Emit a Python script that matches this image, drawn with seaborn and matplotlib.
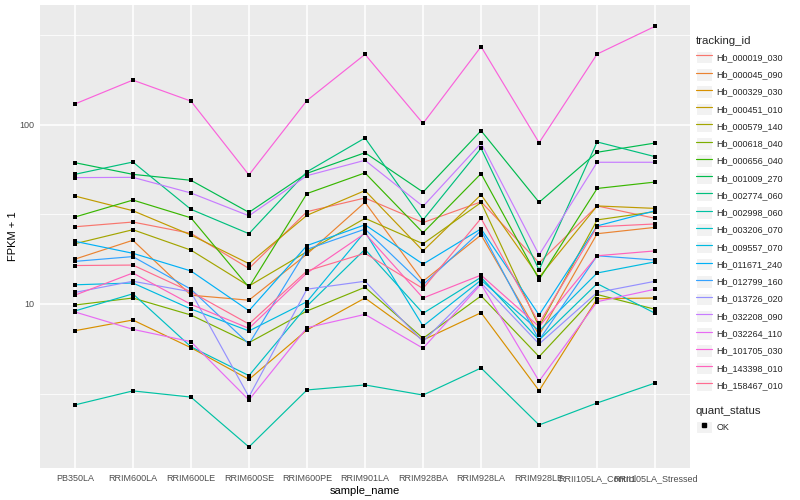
import matplotlib
matplotlib.use("Agg")
import matplotlib.pyplot as plt
import seaborn as sns
import pandas as pd
from matplotlib.lines import Line2D
from matplotlib.patches import Rectangle
from matplotlib.ticker import FixedLocator, NullLocator

samples = ["PB350LA", "RRIM600LA", "RRIM600LE", "RRIM600SE", "RRIM600PE",
           "RRIM901LA", "RRIM928BA", "RRIM928LA", "RRIM928LE",
           "RRII105LA_Control", "RRII105LA_Stressed"]

tracking_ids = ["Hb_000019_030", "Hb_000045_090", "Hb_000329_030", "Hb_000451_010",
                "Hb_000579_140", "Hb_000618_040", "Hb_000656_040", "Hb_001009_270",
                "Hb_002774_060", "Hb_002998_060", "Hb_003206_070", "Hb_009557_070",
                "Hb_011671_240", "Hb_012799_160", "Hb_013726_020", "Hb_032208_090",
                "Hb_032264_110", "Hb_101705_030", "Hb_143398_010", "Hb_158467_010"]

palette = ["#F8766D", "#EA8331", "#D89000", "#C09B00", "#A3A500", "#7CAE00",
           "#39B600", "#00BB4E", "#00BF7D", "#00C1A3", "#00BFC4", "#00BAE0",
           "#00B0F6", "#35A2FF", "#9590FF", "#C77CFF", "#E76BF3", "#FA62DB",
           "#FF62BC", "#FF6C91"]

# FPKM + 1 values per tracking_id, in sample order
Hb_000019_030 = [27.0, 28.7, 24.8, 15.8, 32.8, 39.1, 28.5, 37.2, 17.0, 35.3, 30.1]
Hb_000045_090 = [17.8, 22.7, 11.2, 10.5, 19.0, 37.0, 13.4, 24.3, 6.71, 24.7, 26.8]
Hb_000329_030 = [7.09, 8.14, 5.70, 3.79, 7.16, 10.8, 6.29, 8.94, 3.28, 10.7, 10.8]
Hb_000451_010 = [40.1, 33.2, 24.3, 16.8, 31.3, 43.0, 19.8, 40.8, 14.1, 35.3, 34.2]
Hb_000579_140 = [21.7, 26.0, 20.0, 12.6, 19.6, 30.1, 21.7, 36.9, 7.47, 29.5, 32.8]
Hb_000618_040 = [9.87, 10.8, 8.68, 6.08, 9.14, 12.4, 6.43, 11.1, 5.08, 11.3, 9.34]
Hb_000656_040 = [30.6, 38.1, 30.3, 12.4, 41.4, 54.0, 25.0, 53.5, 13.7, 44.2, 48.0]
Hb_001009_270 = [61.6, 53.0, 49.1, 32.5, 53.7, 70.0, 42.2, 92.9, 37.0, 70.4, 79.3]
Hb_002774_060 = [53.0, 62.1, 33.8, 24.7, 54.8, 84.6, 29.5, 74.1, 15.5, 80.4, 66.5]
Hb_002998_060 = [2.73, 3.27, 3.02, 1.59, 3.31, 3.53, 3.10, 4.39, 2.11, 2.80, 3.62]
Hb_003206_070 = [9.14, 11.4, 5.77, 3.98, 9.74, 20.2, 8.87, 14.1, 6.29, 13.0, 8.87]
Hb_009557_070 = [12.8, 13.1, 9.38, 7.07, 10.3, 25.3, 7.53, 13.6, 7.07, 14.9, 17.2]
Hb_011671_240 = [22.4, 19.2, 15.3, 9.17, 21.2, 27.7, 16.7, 26.3, 8.68, 27.3, 33.2]
Hb_012799_160 = [17.3, 18.4, 12.1, 5.98, 20.2, 26.2, 12.8, 25.7, 6.29, 18.6, 17.6]
Hb_013726_020 = [11.6, 13.4, 11.7, 3.03, 12.1, 13.4, 6.16, 13.1, 5.98, 11.6, 13.4]
Hb_032208_090 = [50.8, 51.0, 41.7, 31.1, 52.1, 63.5, 35.1, 79.0, 18.8, 61.9, 61.9]
Hb_032264_110 = [9.03, 7.22, 6.16, 2.91, 7.37, 8.75, 5.66, 12.9, 3.71, 10.3, 12.1]
Hb_101705_030 = [131, 178, 136, 52.6, 137, 248, 102, 274, 79.6, 249, 356]
Hb_143398_010 = [11.2, 14.9, 9.96, 7.31, 14.9, 24.8, 10.8, 14.5, 7.47, 18.6, 19.8]
Hb_158467_010 = [16.4, 16.5, 11.7, 7.73, 15.3, 19.2, 12.2, 30.1, 7.80, 27.0, 28.0]

series = [Hb_000019_030, Hb_000045_090, Hb_000329_030, Hb_000451_010, Hb_000579_140,
          Hb_000618_040, Hb_000656_040, Hb_001009_270, Hb_002774_060, Hb_002998_060,
          Hb_003206_070, Hb_009557_070, Hb_011671_240, Hb_012799_160, Hb_013726_020,
          Hb_032208_090, Hb_032264_110, Hb_101705_030, Hb_143398_010, Hb_158467_010]

quant_status = ["OK"]

rows = []
for tid, vals in zip(tracking_ids, series):
    for s, v in zip(samples, vals):
        rows.append({"tracking_id": tid, "sample_name": s, "fpkm": v,
                     "quant_status": quant_status[0]})
df = pd.DataFrame(rows)
df["sample_name"] = pd.Categorical(df["sample_name"], categories=samples, ordered=True)
df["xpos"] = df["sample_name"].cat.codes

sns.set_theme(style="white")
plt.rcParams["font.family"] = ["Liberation Sans", "DejaVu Sans"]

fig = plt.figure(figsize=(8, 5), dpi=100)
W, H = 800, 500
ax = fig.add_axes([40 / W, (H - 468) / H, 650 / W, 463 / H])
ax.set_facecolor("#EBEBEB")
ax.set_yscale("log")

sns.lineplot(data=df, x="xpos", y="fpkm", hue="tracking_id", hue_order=tracking_ids,
             palette=palette, estimator=None, linewidth=0.85, legend=False, ax=ax,
             zorder=2)
sns.scatterplot(data=df, x="xpos", y="fpkm", color="black", marker="s", s=7,
                linewidth=0, legend=False, ax=ax, zorder=3)

ax.set_xlim(-0.6, len(samples) - 0.4)
ax.set_ylim(1.213, 468)
ax.set_xticks(range(len(samples)))
ax.set_xticklabels(samples)
ax.xaxis.set_minor_locator(NullLocator())
ax.yaxis.set_major_locator(FixedLocator([10, 100]))
ax.set_yticklabels(["10", "100"])
ax.yaxis.set_minor_locator(FixedLocator([10 ** 0.5, 10 ** 1.5, 10 ** 2.5]))
ax.yaxis.set_minor_formatter(plt.NullFormatter())
ax.grid(which="major", color="white", linewidth=1.1)
ax.grid(which="minor", axis="y", color="white", linewidth=0.55)
ax.set_axisbelow(True)
for sp in ax.spines.values():
    sp.set_visible(False)
ax.tick_params(which="major", length=2.2, width=0.6, color="#333333",
               labelcolor="#4D4D4D", labelsize=6.5, pad=2)
ax.tick_params(which="minor", length=0)
ax.set_xlabel("sample_name", fontsize=8, color="black", labelpad=2)
ax.set_ylabel("FPKM + 1", fontsize=8, color="black")
ax.yaxis.set_label_coords(-22 / 650, 0.5)

# legends
handles = []
for c in palette:
    bg = Rectangle((0, 0), 1, 1, facecolor="#F2F2F2", edgecolor="white", linewidth=0.8)
    ln = Line2D([], [], color=c, linewidth=0.85)
    handles.append((bg, ln))
leg1 = fig.legend(handles, tracking_ids, loc="upper left",
                  bbox_to_anchor=(696 / W, 1 - 36 / H), frameon=False,
                  title="tracking_id", title_fontsize=8.2, fontsize=6.5,
                  handlelength=1.75, handleheight=1.75, labelspacing=0.53,
                  handletextpad=0.5, borderpad=0, borderaxespad=0)
leg1._legend_box.align = "left"

bg = Rectangle((0, 0), 1, 1, facecolor="#F2F2F2", edgecolor="white", linewidth=0.8)
pt = Line2D([], [], color="black", marker="s", markersize=2.6, linestyle="none")
leg2 = fig.legend([(bg, pt)], quant_status, loc="upper left",
                  bbox_to_anchor=(696 / W, 1 - 406 / H), frameon=False,
                  title="quant_status", title_fontsize=8.2, fontsize=6.5,
                  handlelength=1.75, handleheight=1.75, handletextpad=0.5,
                  labelspacing=0.53, borderpad=0, borderaxespad=0)
leg2._legend_box.align = "left"

fig.savefig("out.png", dpi=100)
